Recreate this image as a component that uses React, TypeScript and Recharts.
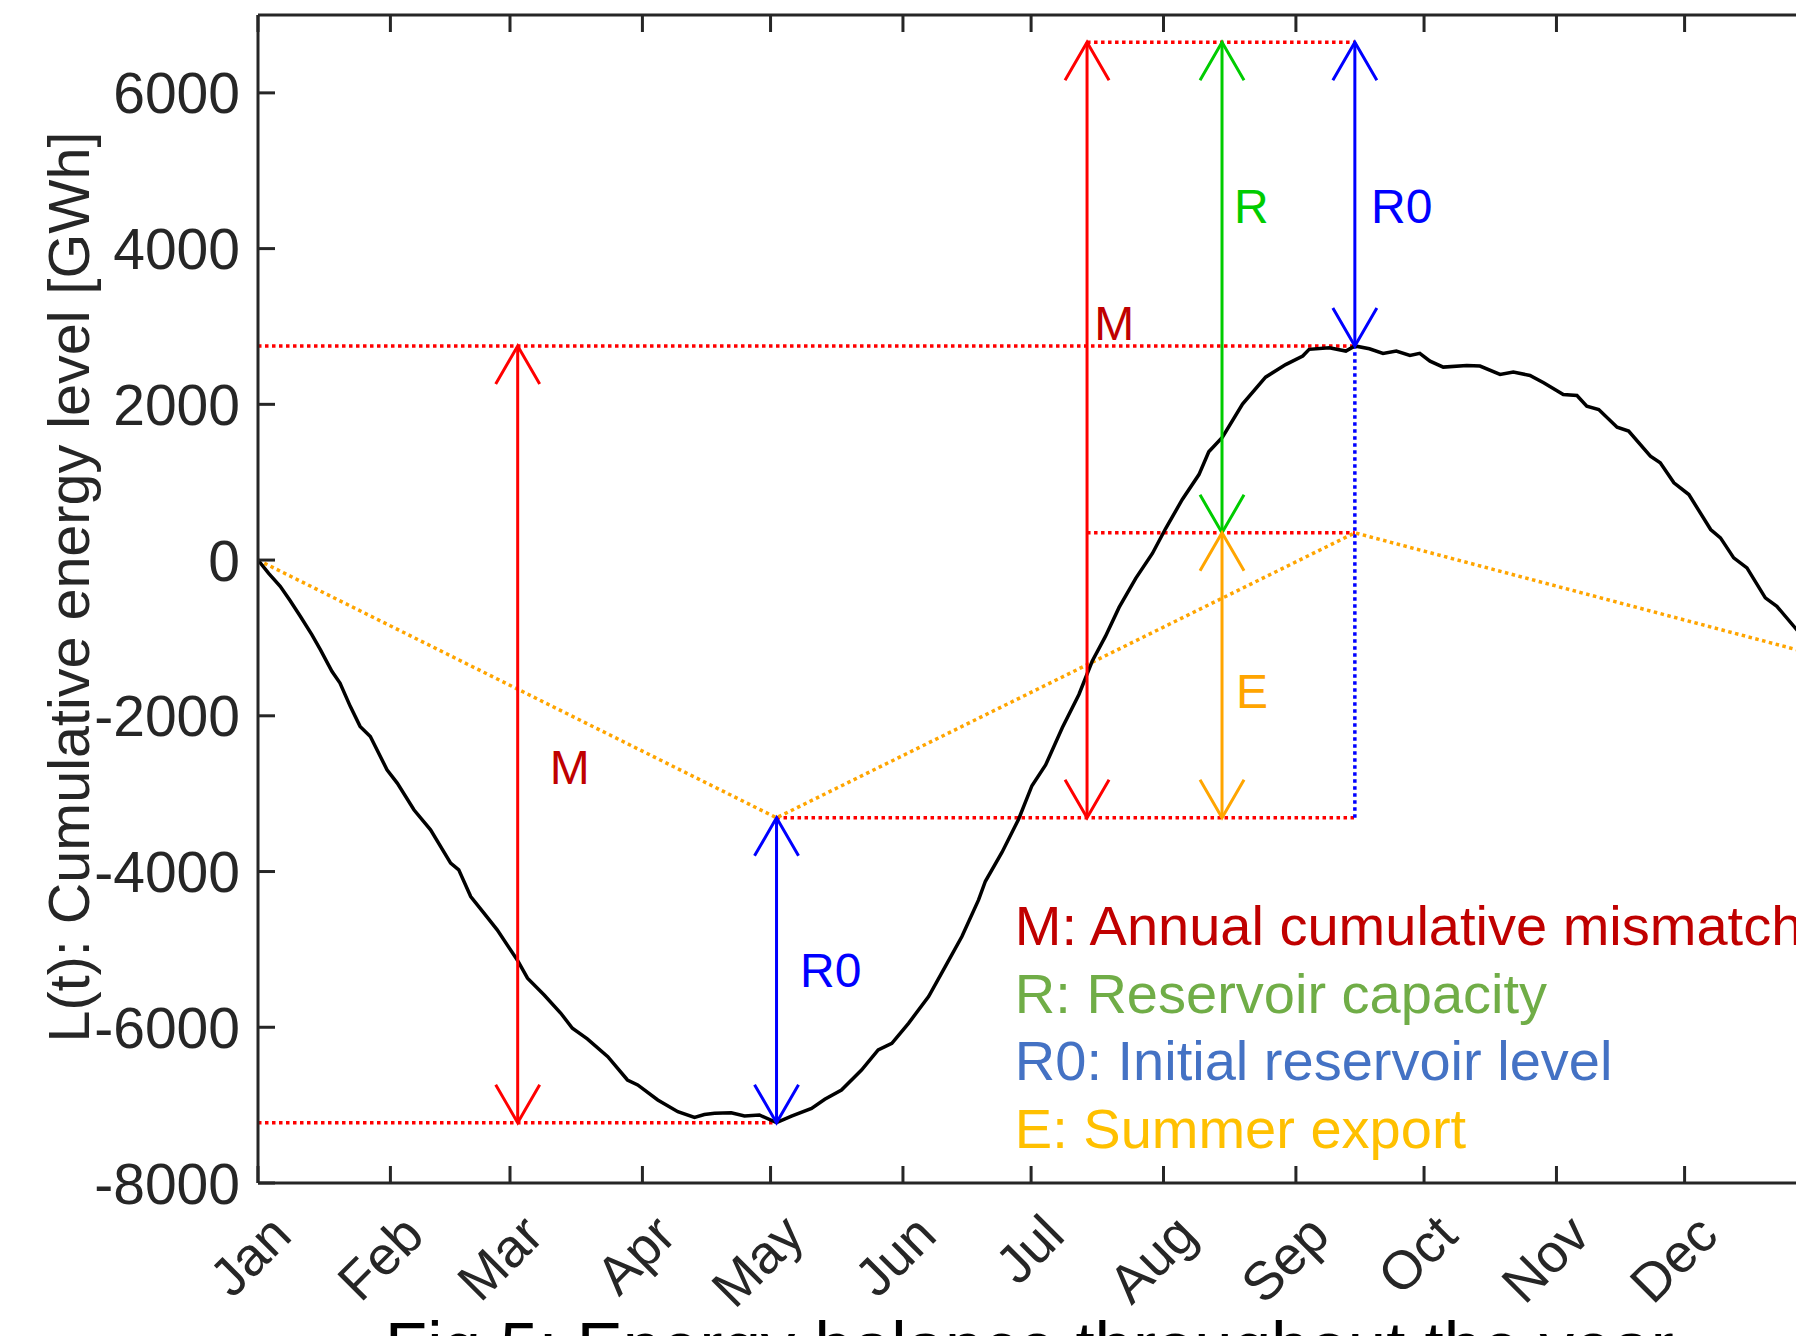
import React from 'react';
import { LineChart, Line, XAxis, YAxis, ReferenceLine, ReferenceDot } from 'recharts';

const FONT = '"Liberation Sans", Arial, Helvetica, sans-serif';
const AXIS_COLOR = '#262626';

// cumulative energy level L(t), day of year (0 = 1 Jan) against GWh
const curveDays = [
  0, 2.5, 5.2, 7.5, 9.9, 12.6, 14.6, 17.3, 19.2, 21.6, 23.9, 26.3, 30.2, 32.6, 36.5, 40.4,
  45.1, 47.0, 49.8, 52.9, 56.0, 60.7, 63.1, 67.0, 70.9, 73.6, 77.1, 81.9, 86.5, 88.9, 93.6,
  98.3, 102.2, 104.5, 106.9, 110.8, 113.9, 117.4, 121.4, 124.9, 129.6, 132.7, 136.6, 141.3,
  145.2, 148.4, 152.3, 157.0, 160.9, 164.8, 168.7, 170.3, 174.2, 178.1, 181.2, 184.4, 188.3,
  192.2, 195.3, 198.4, 201.6, 205.5, 209.4, 212.5, 216.4, 220.3, 222.6, 225.8, 230.5, 235.9,
  240.6, 244.6, 246.1, 250.8, 254.7, 256.8, 260.2, 263.4, 266.5, 269.7, 272.0, 274.4, 277.5,
  283.0, 286.1, 290.8, 293.9, 297.8, 301.0, 305.6, 308.8, 311.1, 313.9, 318.2, 320.9, 326.0,
  328.3, 331.5, 335.0, 340.1, 342.4, 345.5, 348.6, 352.9, 355.6, 360.9, 365,
];
const curveLevels = [
  0, -170, -337, -520, -722, -958, -1150, -1429, -1579, -1879, -2136, -2265, -2693, -2864, -3207, -3464,
  -3892, -3978, -4321, -4535, -4749, -5135, -5370, -5585, -5820, -6013, -6150, -6378, -6677, -6741, -6934,
  -7084, -7157, -7120, -7105, -7097, -7140, -7127, -7225, -7140, -7041, -6925, -6806, -6549,
  -6292, -6206, -5949, -5607, -5221, -4835, -4364, -4125, -3752, -3325, -2898, -2632, -2153,
  -1726, -1300, -980, -608, -235, 85, 405, 778, 1098, 1391, 1577, 2004, 2349,
  2510, 2620, 2706, 2727, 2684, 2750, 2714, 2654, 2684, 2628, 2654, 2555, 2478,
  2500, 2491, 2384, 2414, 2371, 2277, 2127, 2114, 1977, 1934, 1707, 1656, 1334,
  1249, 992, 842, 392, 285, 28, -100, -486, -594, -936, -1220,
];

// piecewise linear reference profile
const linearDays = [0, 121.4, 256.8, 365];
const linearLevels = [0, -3310, 350, -1220];

const monthTicks = [0, 31, 59, 90, 120, 151, 181, 212, 243, 273, 304, 334];
const monthLabels = ['Jan', 'Feb', 'Mar', 'Apr', 'May', 'Jun', 'Jul', 'Aug', 'Sep', 'Oct', 'Nov', 'Dec'];
const levelTicks = [-8000, -6000, -4000, -2000, 0, 2000, 4000, 6000];

// construction levels (GWh) and days
const troughDay = 121.4;
const troughLevel = -7225;
const peakDay = 256.8;
const peakLevel = 2750;
const topLevel = 6650;
const midLevel = 350;
const lowLevel = -3310;
const mismatchDayA = 60.8;
const mismatchDayB = 194.1;
const capacityDay = 225.7;

const RED = '#FF0000';
const BLUE = '#0000FF';
const GREEN = '#00CC00';
const ORANGE = '#FFA500';
const DARK_RED = '#C00000';

const arrows = [
  { day: mismatchDayA, from: troughLevel, to: peakLevel, color: RED },
  { day: troughDay, from: troughLevel, to: lowLevel, color: BLUE },
  { day: mismatchDayB, from: lowLevel, to: topLevel, color: RED },
  { day: capacityDay, from: midLevel, to: topLevel, color: GREEN },
  { day: capacityDay, from: lowLevel, to: midLevel, color: ORANGE },
  { day: peakDay, from: peakLevel, to: topLevel, color: BLUE },
];

const guides = [
  { x1: 0, y1: troughLevel, x2: troughDay, y2: troughLevel, color: RED },
  { x1: 0, y1: peakLevel, x2: peakDay, y2: peakLevel, color: RED },
  { x1: mismatchDayB, y1: topLevel, x2: peakDay, y2: topLevel, color: RED },
  { x1: mismatchDayB, y1: midLevel, x2: peakDay, y2: midLevel, color: RED },
  { x1: troughDay, y1: lowLevel, x2: peakDay, y2: lowLevel, color: RED },
  { x1: peakDay, y1: lowLevel, x2: peakDay, y2: peakLevel, color: BLUE },
];

const arrowLabels = [
  { day: 68.3, level: -2875, text: 'M', color: DARK_RED },
  { day: 126.9, level: -5486, text: 'R0', color: BLUE },
  { day: 195.8, level: 2826, text: 'M', color: DARK_RED },
  { day: 228.5, level: 4329, text: 'R', color: GREEN },
  { day: 260.6, level: 4329, text: 'R0', color: BLUE },
  { day: 229.0, level: -1899, text: 'E', color: ORANGE },
];

const legendItems = [
  { text: 'M: Annual cumulative mismatch', color: '#C00000' },
  { text: 'R: Reservoir capacity', color: '#70AD47' },
  { text: 'R0: Initial reservoir level', color: '#4472C4' },
  { text: 'E: Summer export', color: '#FFC000' },
];
const legendDay = 177.2;
const legendLevel = -4943;

const curve = curveDays.map((day, i) => ({ day, level: curveLevels[i] }));
const linear = linearDays.map((day, i) => ({ day, level: linearLevels[i] }));

const DOTS = '3.5 3.5';
const DOT_WIDTH = 3.5;

// double-headed arrow with open V heads
const ArrowShape = (props: any) => {
  const { x1, y1, x2, y2, stroke } = props;
  const len = Math.hypot(x2 - x1, y2 - y1) || 1;
  const ux = (x2 - x1) / len;
  const uy = (y2 - y1) / len;
  const head = 38;
  const half = 22;
  const wing = (tx: number, ty: number, s: number) => {
    const bx = tx - s * ux * head;
    const by = ty - s * uy * head;
    return `${bx - uy * half},${by + ux * half} ${tx},${ty} ${bx + uy * half},${by - ux * half}`;
  };
  return (
    <g>
      <line x1={x1} y1={y1} x2={x2} y2={y2} stroke={stroke} strokeWidth={3} />
      <polyline points={wing(x2, y2, 1)} fill="none" stroke={stroke} strokeWidth={3} />
      <polyline points={wing(x1, y1, -1)} fill="none" stroke={stroke} strokeWidth={3} />
    </g>
  );
};

const BottomTick = (props: any) => {
  const { x, y, payload } = props;
  const label = monthLabels[monthTicks.indexOf(payload.value)];
  const bx = x + 36;
  const by = y + 55;
  return (
    <g>
      <line x1={x} y1={y} x2={x} y2={y - 17} stroke={AXIS_COLOR} strokeWidth={3} />
      <text
        x={bx}
        y={by}
        textAnchor="end"
        transform={`rotate(-45 ${bx} ${by})`}
        fill={AXIS_COLOR}
        fontSize={54}
        fontFamily={FONT}
      >
        {label}
      </text>
    </g>
  );
};

const TopTick = (props: any) => {
  const { x, y } = props;
  return <line x1={x} y1={y} x2={x} y2={y + 17} stroke={AXIS_COLOR} strokeWidth={3} />;
};

const LeftTick = (props: any) => {
  const { x, y, payload } = props;
  return (
    <g>
      <line x1={x} y1={y} x2={x + 17} y2={y} stroke={AXIS_COLOR} strokeWidth={3} />
      <text x={x - 18} y={y} dy="0.36em" textAnchor="end" fill={AXIS_COLOR} fontSize={57} fontFamily={FONT}>
        {payload.value}
      </text>
    </g>
  );
};

const AxisTitle = (props: any) => {
  const { viewBox } = props;
  const x = viewBox.x + viewBox.width - 169;
  const y = viewBox.y + viewBox.height / 2 - 12;
  return (
    <text
      x={x}
      y={y}
      textAnchor="middle"
      transform={`rotate(-90 ${x} ${y})`}
      fill={AXIS_COLOR}
      fontSize={57.5}
      fontFamily={FONT}
    >
      L(t): Cumulative energy level [GWh]
    </text>
  );
};

const LegendBlock = (props: any) => {
  const { cx, cy } = props;
  return (
    <g>
      {legendItems.map((item, i) => (
        <text key={item.text} x={cx} y={cy + i * 67.7} fill={item.color} fontSize={56} fontFamily={FONT}>
          {item.text}
        </text>
      ))}
    </g>
  );
};

export default function App() {
  return (
    <div
      style={{
        position: 'fixed',
        left: 0,
        top: 0,
        width: 1796,
        height: 1336,
        overflow: 'hidden',
        background: '#fff',
      }}
    >
      <LineChart width={1834} height={1336} margin={{ top: 14, right: 17, bottom: 53, left: 158 }}>
        <XAxis
          xAxisId="bottom"
          dataKey="day"
          type="number"
          domain={[0, 365]}
          ticks={monthTicks}
          interval={0}
          height={100}
          tickSize={0}
          tickMargin={0}
          tickLine={false}
          tick={<BottomTick />}
          axisLine={{ stroke: AXIS_COLOR, strokeWidth: 3 }}
          allowDataOverflow
        />
        <XAxis
          xAxisId="top"
          orientation="top"
          dataKey="day"
          type="number"
          domain={[0, 365]}
          ticks={monthTicks}
          interval={0}
          height={1}
          tickSize={0}
          tickMargin={0}
          tickLine={false}
          tick={<TopTick />}
          axisLine={{ stroke: AXIS_COLOR, strokeWidth: 3 }}
          allowDataOverflow
        />
        <YAxis
          type="number"
          domain={[-8000, 7000]}
          ticks={levelTicks}
          interval={0}
          width={100}
          tickSize={0}
          tickMargin={0}
          tickLine={false}
          tick={<LeftTick />}
          axisLine={{ stroke: AXIS_COLOR, strokeWidth: 3 }}
          label={AxisTitle}
          allowDataOverflow
        />

        {guides.map((g, i) => (
          <ReferenceLine
            key={`guide-${i}`}
            xAxisId="bottom"
            segment={[{ x: g.x1, y: g.y1 }, { x: g.x2, y: g.y2 }]}
            stroke={g.color}
            strokeWidth={DOT_WIDTH}
            strokeDasharray={DOTS}
          />
        ))}

        <Line
          xAxisId="bottom"
          data={linear}
          dataKey="level"
          type="linear"
          stroke={ORANGE}
          strokeWidth={DOT_WIDTH}
          strokeDasharray={DOTS}
          dot={false}
          activeDot={false}
          isAnimationActive={false}
        />
        <Line
          xAxisId="bottom"
          data={curve}
          dataKey="level"
          type="linear"
          stroke="#000"
          strokeWidth={3.5}
          dot={false}
          activeDot={false}
          isAnimationActive={false}
        />

        {arrows.map((a, i) => (
          <ReferenceLine
            key={`arrow-${i}`}
            xAxisId="bottom"
            segment={[{ x: a.day, y: a.from }, { x: a.day, y: a.to }]}
            stroke={a.color}
            strokeWidth={3}
            shape={ArrowShape}
          />
        ))}

        {arrowLabels.map((l, i) => (
          <ReferenceDot
            key={`label-${i}`}
            xAxisId="bottom"
            x={l.day}
            y={l.level}
            r={0}
            shape={(p: any) => (
              <text x={p.cx} y={p.cy} fill={l.color} fontSize={48} fontFamily={FONT}>
                {l.text}
              </text>
            )}
          />
        ))}

        <ReferenceDot xAxisId="bottom" x={legendDay} y={legendLevel} r={0} shape={LegendBlock} />
      </LineChart>

      <div
        style={{
          position: 'absolute',
          left: 385,
          top: 1312,
          fontSize: 69,
          lineHeight: '69px',
          fontFamily: FONT,
          color: '#000',
          whiteSpace: 'nowrap',
        }}
      >
        Fig 5: Energy balance throughout the year
      </div>
    </div>
  );
}
